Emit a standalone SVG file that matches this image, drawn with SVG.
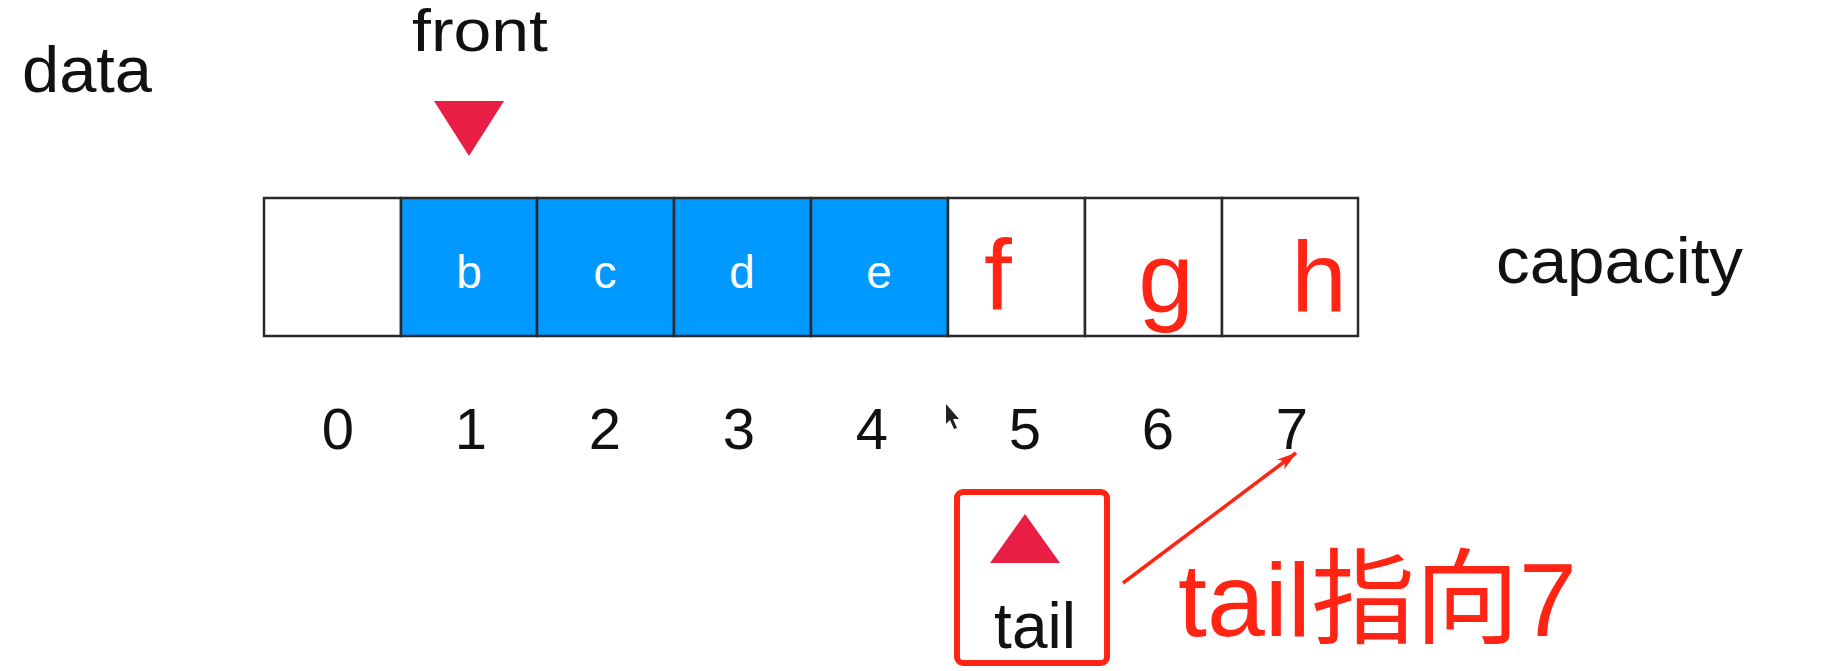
<svg xmlns="http://www.w3.org/2000/svg" width="1847" height="671" viewBox="0 0 1847 671">
<style>
.lbl{font-family:"Liberation Sans",Arial,sans-serif;fill:#111;}
.cell{stroke:#2a2a2a;stroke-width:2.5;}
.empty{fill:#fff;}
.full{fill:#0099ff;}
.w{font-family:"Liberation Sans",Arial,sans-serif;fill:#fff;font-size:46px;text-anchor:middle;}
.r{font-family:"Liberation Sans",Arial,sans-serif;fill:#ff2414;font-size:100px;text-anchor:middle;}
.idx{font-family:"Liberation Sans",Arial,sans-serif;fill:#111;font-size:58px;text-anchor:middle;}
.tri{fill:#e81e45;}
</style>
<defs>
<marker id="ah" viewBox="0 0 20 12" refX="19" refY="6" markerWidth="20" markerHeight="12" markerUnits="userSpaceOnUse" orient="auto">
<path d="M0,0 L20,6 L0,12 L5,6 z" fill="#ff2414"/>
</marker>
</defs>
<rect width="1847" height="671" fill="#fff"/>
<g id="data-label"><text class="lbl" x="22" y="92" font-size="64" textLength="130" lengthAdjust="spacingAndGlyphs">data</text></g>
<g id="front"><text class="lbl" x="480" y="51" font-size="60" text-anchor="middle" textLength="136" lengthAdjust="spacingAndGlyphs">front</text>
<polygon class="tri" points="434,101 504,101 469,156"/></g>
<g id="array">
<rect class="cell empty" x="264" y="198" width="137" height="138"/>
<rect class="cell full" x="401" y="198" width="136" height="138"/>
<rect class="cell full" x="537" y="198" width="137" height="138"/>
<rect class="cell full" x="674" y="198" width="137" height="138"/>
<rect class="cell full" x="811" y="198" width="137" height="138"/>
<rect class="cell empty" x="948" y="198" width="137" height="138"/>
<rect class="cell empty" x="1085" y="198" width="137" height="138"/>
<rect class="cell empty" x="1222" y="198" width="136" height="138"/>
<text class="w" x="469" y="288">b</text>
<text class="w" x="605" y="288">c</text>
<text class="w" x="742" y="288">d</text>
<text class="w" x="879" y="288">e</text>
<text class="r" x="998" y="310">f</text>
<text class="r" x="1166" y="312">g</text>
<text class="r" x="1319" y="312">h</text>
</g>
<g id="capacity"><text class="lbl" x="1496" y="283" font-size="64" textLength="247" lengthAdjust="spacingAndGlyphs">capacity</text></g>
<g id="indices">
<text class="idx" x="338" y="449">0</text>
<text class="idx" x="471" y="449">1</text>
<text class="idx" x="605" y="449">2</text>
<text class="idx" x="739" y="449">3</text>
<text class="idx" x="872" y="449">4</text>
<text class="idx" x="1025" y="449">5</text>
<text class="idx" x="1158" y="449">6</text>
<text class="idx" x="1292" y="449">7</text>
</g>
<g id="cursor"><polygon points="946,404 946,424 950,420 954,429 957,428 953,419 959,419" fill="#222"/></g>
<g id="tail">
<rect x="957" y="492" width="150" height="171" rx="6" fill="none" stroke="#ff2414" stroke-width="6"/>
<polygon class="tri" points="1025,514 1060,563 990,563"/>
<text class="lbl" x="1035" y="648" font-size="64" text-anchor="middle">tail</text>
</g>
<g id="connectors">
<line x1="1123" y1="583" x2="1296" y2="453" stroke="#ff2414" stroke-width="3.5" marker-end="url(#ah)"/>
</g>
<g id="note"><text x="1178" y="636" font-family="'Liberation Sans','Noto Sans CJK SC',sans-serif" font-size="104" fill="#ff2414">tail指向7</text></g>
</svg>
